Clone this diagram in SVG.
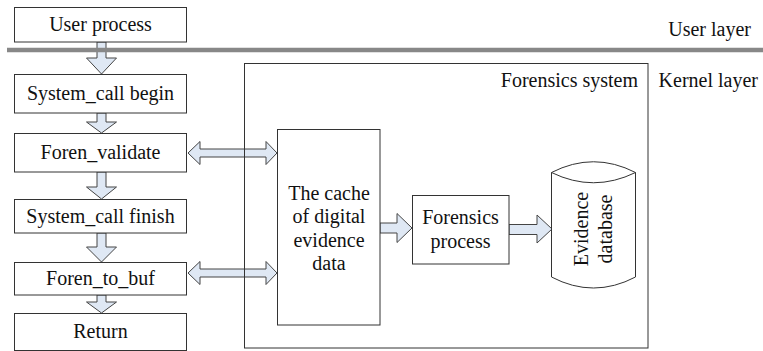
<svg xmlns="http://www.w3.org/2000/svg" width="763" height="351" viewBox="0 0 763 351" font-family="'Liberation Serif', 'DejaVu Serif', serif">
<style>
.box{fill:#fff;stroke:#333;stroke-width:1}
.frame{fill:none;stroke:#333;stroke-width:1}
.arr{fill:#dfe8f4;stroke:#444;stroke-width:1;stroke-linejoin:miter}
text{font-family:'Liberation Serif','DejaVu Serif',serif;font-size:20px;fill:#111}
.c{text-anchor:middle}
.r{text-anchor:end}
</style>
<rect width="763" height="351" fill="#fff"/>
<g id="connectors">
<polygon class="arr" points="97,42 106,42 106,58 116.5,58 101.5,74 86.5,58 97,58"/>
<polygon class="arr" points="97,113 106,113 106,122 116.5,122 101.5,133 86.5,122 97,122"/>
<polygon class="arr" points="97,172 106,172 106,187 116.5,187 101.5,199 86.5,187 97,187"/>
<polygon class="arr" points="97,233 106,233 106,247 116.5,247 101.5,262 86.5,247 97,247"/>
<polygon class="arr" points="97,295 106,295 106,302 116.5,302 101.5,313 86.5,302 97,302"/>
<polygon class="arr" points="188,153 200,141.5 200,149 266,149 266,141.5 277,153 266,164.5 266,157 200,157 200,164.5"/>
<polygon class="arr" points="188,273 200,261.5 200,269 266,269 266,261.5 277,273 266,284.5 266,277 200,277 200,284.5"/>
<polygon class="arr" points="380,223 397,223 397,213.5 412,228 397,242.5 397,233 380,233"/>
<polygon class="arr" points="509,224.5 537,224.5 537,215 552,229 537,243 537,234.5 509,234.5"/>
</g>
<line x1="7" y1="50" x2="763" y2="50" stroke="#888" stroke-width="4.5"/>
<text x="751" y="36" class="r">User layer</text>
<text x="758" y="87" class="r">Kernel layer</text>
<g id="forensics-system">
<rect class="frame" x="244.5" y="63.5" width="403.5" height="284.5"/>
<text x="638" y="87" class="r">Forensics system</text>
</g>
<g id="user-process"><rect class="box" x="14.5" y="7.5" width="172" height="34.5"/><text x="100.5" y="31" class="c">User process</text></g>
<g id="syscall-begin"><rect class="box" x="14.5" y="74.5" width="172" height="38.5"/><text x="100.5" y="100" class="c">System_call begin</text></g>
<g id="foren-validate"><rect class="box" x="14.5" y="133.5" width="172" height="38.5"/><text x="100.5" y="159" class="c">Foren_validate</text></g>
<g id="syscall-finish"><rect class="box" x="14.5" y="199.5" width="172" height="33.5"/><text x="100.5" y="223" class="c">System_call finish</text></g>
<g id="foren-to-buf"><rect class="box" x="14.5" y="262.5" width="172" height="32.5"/><text x="100.5" y="285" class="c">Foren_to_buf</text></g>
<g id="return"><rect class="box" x="14.5" y="313.5" width="172" height="37"/><text x="100.5" y="338" class="c">Return</text></g>
<g id="cache">
<rect class="box" x="277.5" y="129.5" width="102.5" height="195.5"/>
<text x="329" y="200" class="c">The cache</text>
<text x="329" y="223" class="c">of digital</text>
<text x="329" y="247" class="c">evidence</text>
<text x="329" y="270" class="c">data</text>
</g>
<g id="forensics-process">
<rect class="box" x="412.5" y="195.5" width="96.5" height="68.5"/>
<text x="460.5" y="224" class="c">Forensics</text>
<text x="460.5" y="248" class="c">process</text>
</g>
<g id="evidence-database">
<path class="box" d="M551.5,172.5 Q593.5,151 635.5,172.5 L635.5,277 Q593.5,299 551.5,277 Z"/>
<path class="frame" d="M551.5,172.5 Q593.5,193 635.5,172.5"/>
<text transform="translate(588,229) rotate(-90)" class="c">Evidence</text>
<text transform="translate(612,229) rotate(-90)" class="c">database</text>
</g>
</svg>
